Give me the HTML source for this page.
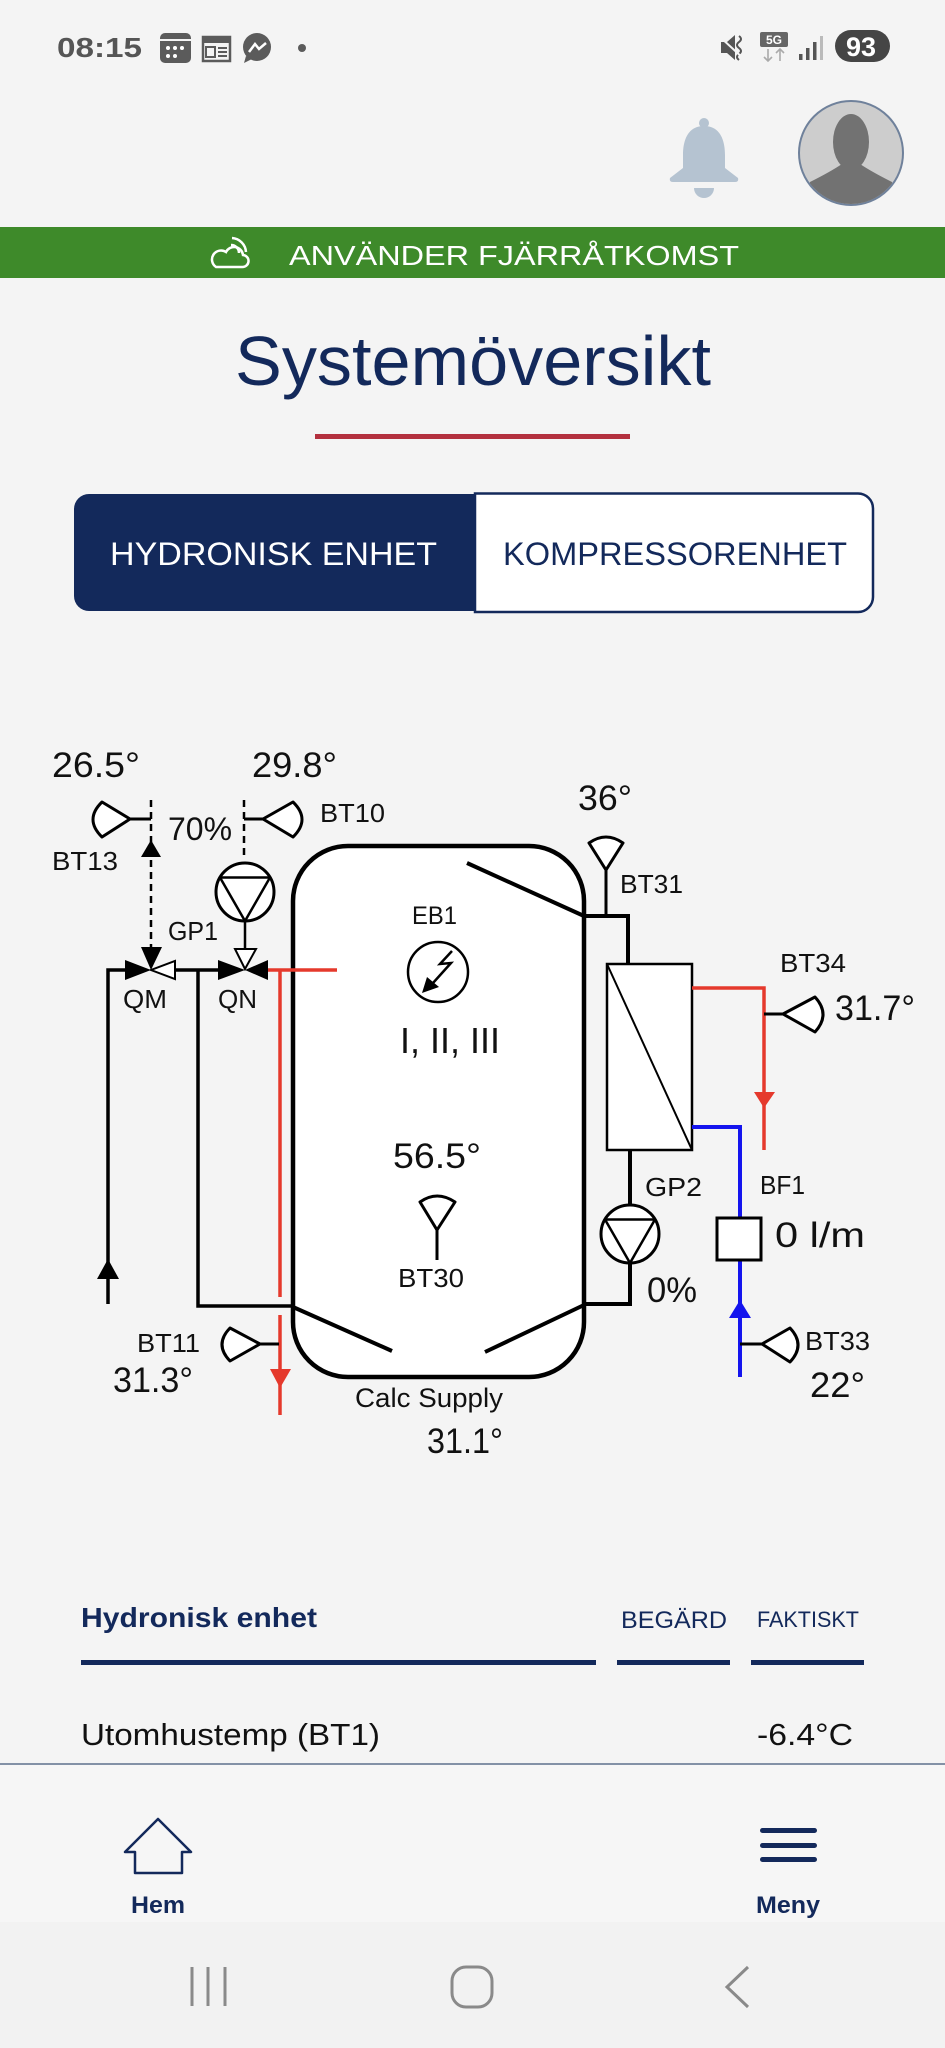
<!DOCTYPE html>
<html>
<head>
<meta charset="utf-8">
<style>
html,body{margin:0;padding:0;background:#f4f4f4;}
body{width:945px;height:2048px;overflow:hidden;position:relative;}
svg{position:absolute;left:0;top:0;}
text{font-family:"Liberation Sans",sans-serif;}
</style>
</head>
<body>
<svg width="945" height="2048" viewBox="0 0 945 2048" xmlns="http://www.w3.org/2000/svg">
<defs>
<clipPath id="av"><circle cx="851" cy="153" r="51"/></clipPath>
</defs>
<rect x="0" y="0" width="945" height="2048" fill="#f4f4f4"/>

<!-- STATUS BAR -->
<text x="57" y="57" font-size="28" font-weight="bold" fill="#555" textLength="85" lengthAdjust="spacingAndGlyphs">08:15</text>
<rect x="160" y="33" width="31" height="30" rx="5" fill="#5b5b5b"/>
<rect x="160" y="39" width="31" height="2" fill="#f4f4f4"/>
<circle cx="168" cy="48" r="2" fill="#fff"/><circle cx="175" cy="48" r="2" fill="#fff"/><circle cx="182" cy="48" r="2" fill="#fff"/>
<circle cx="168" cy="56" r="2" fill="#fff"/><circle cx="175" cy="56" r="2" fill="#fff"/>
<rect x="203" y="37" width="27" height="24" fill="none" stroke="#5b5b5b" stroke-width="2.5"/>
<rect x="203" y="37" width="27" height="6" fill="#5b5b5b"/>
<rect x="206" y="47" width="9" height="10" fill="none" stroke="#5b5b5b" stroke-width="2"/>
<path d="M218,48 H227 M218,52 H227 M218,56 H227" stroke="#5b5b5b" stroke-width="2"/>
<circle cx="257" cy="47" r="14" fill="#5b5b5b"/>
<path d="M246,56 L244,63 L252,59 Z" fill="#5b5b5b"/>
<polyline points="249,52 255,44 259,49 266,43" fill="none" stroke="#fff" stroke-width="2.5"/>
<circle cx="302" cy="48" r="4" fill="#5b5b5b"/>

<path d="M721,42 H727 L735,35 V60 L727,53 H721 Z" fill="#555"/>
<path d="M739,36 q4,3 0,6 q-4,3 0,6 q4,3 0,6 q-4,3 0,6" fill="none" stroke="#555" stroke-width="2"/>
<line x1="720" y1="37" x2="744" y2="59" stroke="#f4f4f4" stroke-width="2"/>
<rect x="760" y="32" width="28" height="15" rx="2" fill="#666"/>
<text x="774" y="44" font-size="12" font-weight="bold" fill="#fff" text-anchor="middle">5G</text>
<path d="M768,49 V61 M764,57 L768,61 L772,57 M780,61 V49 M776,53 L780,49 L784,53" fill="none" stroke="#aaa" stroke-width="1.6"/>
<rect x="799" y="54" width="3.5" height="6" fill="#555"/>
<rect x="806" y="48" width="3.5" height="12" fill="#555"/>
<rect x="813" y="42" width="3.5" height="18" fill="#555"/>
<rect x="820" y="36" width="3" height="24" fill="#bbb"/>
<rect x="835" y="30" width="55" height="32" rx="16" fill="#454545"/>
<text x="861" y="56" font-size="27" font-weight="bold" fill="#fff" text-anchor="middle">93</text>

<!-- HEADER ICONS -->
<circle cx="704" cy="123" r="5" fill="#b5c3d1"/>
<path d="M704,126 C688,126 683,140 683,155 V168 L670,178 Q669,182 673,182 H735 Q739,182 738,178 L725,168 V155 C725,140 720,126 704,126 Z" fill="#b5c3d1"/>
<path d="M694,188 A10,10 0 0 0 714,188 Z" fill="#b5c3d1"/>
<circle cx="851" cy="153" r="52" fill="#cdcdcd" stroke="#6f819b" stroke-width="2"/>
<g clip-path="url(#av)">
<ellipse cx="851" cy="142" rx="18" ry="28" fill="#727272"/>
<path d="M800,215 L810,182 Q830,172 842,164 H860 Q872,172 892,182 L902,215 Z" fill="#727272"/>
</g>

<!-- GREEN BANNER -->
<rect x="0" y="227" width="945" height="51" fill="#3e8a2a"/>
<path d="M216,267 H242 a6,6 0 0 0 1,-12 a9,9 0 0 0 -17,-3 a7,7 0 0 0 -10,15 z" fill="none" stroke="#fff" stroke-width="2.5"/>
<path d="M231,245 a8,8 0 0 1 8,8 M232,238 a15,15 0 0 1 14,14" fill="none" stroke="#fff" stroke-width="2.5"/>
<text x="289" y="265" font-size="28" fill="#fff" textLength="450" lengthAdjust="spacingAndGlyphs">ANVÄNDER FJÄRRÅTKOMST</text>

<!-- TITLE -->
<text x="235" y="385" font-size="70" fill="#13295b" textLength="476" lengthAdjust="spacingAndGlyphs">Systemöversikt</text>
<rect x="315" y="434" width="315" height="5" fill="#b3303e"/>

<!-- TOGGLE -->
<path d="M475,493.5 H858 A15,15 0 0 1 873,508.5 V597 A15,15 0 0 1 858,612 H475 Z" fill="#fff" stroke="#13295b" stroke-width="2.5"/>
<path d="M89,494 H476 V611 H89 A15,15 0 0 1 74,596 V509 A15,15 0 0 1 89,494 Z" fill="#13295b"/>
<text x="110" y="565" font-size="32" fill="#fff" textLength="327" lengthAdjust="spacingAndGlyphs">HYDRONISK ENHET</text>
<text x="503" y="565" font-size="32" fill="#13295b" textLength="344" lengthAdjust="spacingAndGlyphs">KOMPRESSORENHET</text>

<!-- DIAGRAM -->
<!-- tank -->
<rect x="293" y="846" width="291" height="531" rx="55" ry="55" fill="#fff" stroke="#000" stroke-width="4.5"/>
<path d="M467,863 L584,916 M293,1307 L392,1351 M485,1352 L584,1305" stroke="#000" stroke-width="4" fill="none"/>

<!-- black pipes -->
<path d="M108,1304 V970 H125 M175,970 H218 M198,970 V1306 H293" fill="none" stroke="#000" stroke-width="3.5"/>
<polygon points="108,1259 97,1279 119,1279" fill="#000"/>
<path d="M584,916 H628 V964" fill="none" stroke="#000" stroke-width="4"/>
<path d="M630,1150 V1205 M630,1263 V1304 H584" fill="none" stroke="#000" stroke-width="4"/>

<!-- BT13 dashed + arrows -->
<line x1="151" y1="800" x2="151" y2="947" stroke="#000" stroke-width="2.5" stroke-dasharray="7 5"/>
<polygon points="151,840 141,857 161,857" fill="#000"/>
<line x1="130" y1="819" x2="151" y2="819" stroke="#000" stroke-width="3"/>
<path d="M130,819 L102,802 Q84,819.5 102,837 Z" fill="#fff" stroke="#000" stroke-width="3" stroke-linejoin="round"/>

<!-- BT10 dashed -->
<line x1="244" y1="800" x2="244" y2="856" stroke="#000" stroke-width="2.5" stroke-dasharray="7 5"/>
<line x1="244" y1="819" x2="263" y2="819" stroke="#000" stroke-width="3"/>
<path d="M263,819 L293,802 Q311,819.5 293,837 Z" fill="#fff" stroke="#000" stroke-width="3" stroke-linejoin="round"/>

<!-- GP1 pump -->
<circle cx="245" cy="892" r="29" fill="#fff" stroke="#000" stroke-width="3"/>
<polygon points="220,877.5 270,877.5 245,921" fill="none" stroke="#000" stroke-width="2.5" stroke-linejoin="round"/>
<line x1="245" y1="921" x2="245" y2="948" stroke="#000" stroke-width="2.5"/>

<!-- QM valve -->
<polygon points="141,947 162,947 151,970" fill="#000"/>
<polygon points="125,960 125,980 151,970" fill="#000"/>
<polygon points="175,961 175,979 151,970" fill="#fff" stroke="#000" stroke-width="2"/>
<!-- QN valve -->
<polygon points="235,949 256,949 245,969" fill="#fff" stroke="#000" stroke-width="2"/>
<polygon points="218,960 218,980 245,970" fill="#000"/>
<polygon points="268,960 268,980 245,970" fill="#000"/>

<!-- red lines left -->
<path d="M268,970 H337 M280,970 V1297 M280,1315 V1415" fill="none" stroke="#e5392c" stroke-width="3.5"/>
<polygon points="270,1369 291,1369 280,1388" fill="#e5392c"/>

<!-- BT11 -->
<line x1="260" y1="1344" x2="279" y2="1344" stroke="#000" stroke-width="3"/>
<path d="M260,1344 L230,1328 Q214,1344.5 230,1361 Z" fill="#fff" stroke="#000" stroke-width="3" stroke-linejoin="round"/>

<!-- EB1 -->
<circle cx="438" cy="972" r="30" fill="#fff" stroke="#000" stroke-width="2.5"/>
<polyline points="452,951 440,964 451,963 433,983" fill="none" stroke="#000" stroke-width="2.5"/>
<polygon points="422,993 427,977 439,987" fill="#000"/>

<!-- BT30 -->
<line x1="437" y1="1230" x2="437" y2="1260" stroke="#000" stroke-width="3"/>
<path d="M437,1230 L420,1202 Q437,1190 455,1202 Z" fill="#fff" stroke="#000" stroke-width="3" stroke-linejoin="round"/>

<!-- BT31 -->
<line x1="606" y1="916" x2="606" y2="870" stroke="#000" stroke-width="3"/>
<path d="M606,870 L589,843 Q606,831 623,843 Z" fill="#fff" stroke="#000" stroke-width="3" stroke-linejoin="round"/>

<!-- heat exchanger -->
<rect x="607" y="964" width="85" height="186" fill="#fff" stroke="#000" stroke-width="2.5"/>
<line x1="607" y1="964" x2="692" y2="1150" stroke="#000" stroke-width="2"/>

<!-- GP2 pump -->
<circle cx="630" cy="1234" r="29" fill="#fff" stroke="#000" stroke-width="3"/>
<polygon points="605,1219.5 655,1219.5 630,1263" fill="none" stroke="#000" stroke-width="2.5" stroke-linejoin="round"/>

<!-- red right -->
<path d="M692,988 H764 V1150" fill="none" stroke="#e5392c" stroke-width="3.5"/>
<polygon points="754,1092 775,1092 764,1108" fill="#e5392c"/>
<line x1="764" y1="1014" x2="783" y2="1014" stroke="#000" stroke-width="3"/>
<path d="M783,1014 L815,997 Q831,1014.5 815,1032 Z" fill="#fff" stroke="#000" stroke-width="3" stroke-linejoin="round"/>

<!-- blue -->
<path d="M692,1127 H740 V1218 M740,1260 V1377" fill="none" stroke="#1414ee" stroke-width="4"/>
<polygon points="740,1300 729,1318 751,1318" fill="#1414ee"/>
<rect x="717" y="1218" width="44" height="42" fill="#fff" stroke="#000" stroke-width="3"/>
<line x1="740" y1="1344" x2="762" y2="1344" stroke="#000" stroke-width="3"/>
<path d="M762,1344 L790,1328 Q806,1345 790,1362 Z" fill="#fff" stroke="#000" stroke-width="3" stroke-linejoin="round"/>

<!-- diagram texts -->
<g fill="#111">
<text x="52" y="777" font-size="35" textLength="88" lengthAdjust="spacingAndGlyphs">26.5°</text>
<text x="252" y="777" font-size="35" textLength="85" lengthAdjust="spacingAndGlyphs">29.8°</text>
<text x="168" y="840" font-size="32" textLength="64" lengthAdjust="spacingAndGlyphs">70%</text>
<text x="320" y="822" font-size="26" textLength="65" lengthAdjust="spacingAndGlyphs">BT10</text>
<text x="52" y="870" font-size="26" textLength="66" lengthAdjust="spacingAndGlyphs">BT13</text>
<text x="168" y="940" font-size="26" textLength="50" lengthAdjust="spacingAndGlyphs">GP1</text>
<text x="123" y="1008" font-size="26" textLength="44" lengthAdjust="spacingAndGlyphs">QM</text>
<text x="218" y="1008" font-size="26" textLength="39" lengthAdjust="spacingAndGlyphs">QN</text>
<text x="412" y="924" font-size="25" textLength="45" lengthAdjust="spacingAndGlyphs">EB1</text>
<text x="400" y="1053" font-size="36" textLength="100" lengthAdjust="spacingAndGlyphs">I, II, III</text>
<text x="578" y="810" font-size="35" textLength="54" lengthAdjust="spacingAndGlyphs">36°</text>
<text x="620" y="893" font-size="26" textLength="63" lengthAdjust="spacingAndGlyphs">BT31</text>
<text x="780" y="972" font-size="26" textLength="66" lengthAdjust="spacingAndGlyphs">BT34</text>
<text x="835" y="1020" font-size="35" textLength="80" lengthAdjust="spacingAndGlyphs">31.7°</text>
<text x="393" y="1168" font-size="35" textLength="88" lengthAdjust="spacingAndGlyphs">56.5°</text>
<text x="398" y="1287" font-size="26" textLength="66" lengthAdjust="spacingAndGlyphs">BT30</text>
<text x="645" y="1196" font-size="26" textLength="57" lengthAdjust="spacingAndGlyphs">GP2</text>
<text x="760" y="1194" font-size="26" textLength="45" lengthAdjust="spacingAndGlyphs">BF1</text>
<text x="775" y="1247" font-size="35" textLength="90" lengthAdjust="spacingAndGlyphs">0 l/m</text>
<text x="647" y="1302" font-size="35" textLength="50" lengthAdjust="spacingAndGlyphs">0%</text>
<text x="137" y="1352" font-size="26" textLength="63" lengthAdjust="spacingAndGlyphs">BT11</text>
<text x="113" y="1392" font-size="35" textLength="80" lengthAdjust="spacingAndGlyphs">31.3°</text>
<text x="805" y="1350" font-size="26" textLength="65" lengthAdjust="spacingAndGlyphs">BT33</text>
<text x="810" y="1397" font-size="35" textLength="55" lengthAdjust="spacingAndGlyphs">22°</text>
<text x="355" y="1407" font-size="27" textLength="148" lengthAdjust="spacingAndGlyphs">Calc Supply</text>
<text x="427" y="1453" font-size="35" textLength="76" lengthAdjust="spacingAndGlyphs">31.1°</text>
</g>

<!-- TABLE -->
<text x="81" y="1627" font-size="28" font-weight="bold" fill="#13295b" textLength="236" lengthAdjust="spacingAndGlyphs">Hydronisk enhet</text>
<text x="621" y="1628" font-size="24" fill="#13295b" textLength="106" lengthAdjust="spacingAndGlyphs">BEGÄRD</text>
<text x="757" y="1627" font-size="22" fill="#13295b" textLength="102" lengthAdjust="spacingAndGlyphs">FAKTISKT</text>
<rect x="81" y="1660" width="515" height="5" fill="#13295b"/>
<rect x="617" y="1660" width="113" height="5" fill="#13295b"/>
<rect x="751" y="1660" width="113" height="5" fill="#13295b"/>
<text x="81" y="1745" font-size="31" fill="#111" textLength="299" lengthAdjust="spacingAndGlyphs">Utomhustemp (BT1)</text>
<text x="757" y="1745" font-size="31" fill="#111" textLength="96" lengthAdjust="spacingAndGlyphs">-6.4°C</text>

<!-- BOTTOM NAV -->
<rect x="0" y="1765" width="945" height="157" fill="#f6f6f6"/>
<rect x="0" y="1922" width="945" height="126" fill="#f2f2f2"/>
<rect x="0" y="1763" width="945" height="2" fill="#8391a6"/>
<path d="M158,1819 L191,1852 H182 V1873 H135 V1852 H125 Z" fill="none" stroke="#13295b" stroke-width="2.5" stroke-linejoin="round"/>
<text x="158" y="1913" font-size="24" font-weight="bold" fill="#13295b" text-anchor="middle" textLength="54" lengthAdjust="spacingAndGlyphs">Hem</text>
<rect x="760" y="1828" width="57" height="5" rx="2.5" fill="#13295b"/>
<rect x="760" y="1843" width="57" height="5" rx="2.5" fill="#13295b"/>
<rect x="760" y="1857" width="57" height="5" rx="2.5" fill="#13295b"/>
<text x="788" y="1913" font-size="24" font-weight="bold" fill="#13295b" text-anchor="middle" textLength="64" lengthAdjust="spacingAndGlyphs">Meny</text>

<!-- SYSTEM NAV -->
<path d="M192,1967 V2006 M208,1967 V2006 M225,1967 V2006" stroke="#8a8a8a" stroke-width="3"/>
<rect x="452" y="1967" width="40" height="40" rx="14" fill="none" stroke="#8a8a8a" stroke-width="3"/>
<polyline points="748,1967 727,1987 748,2007" fill="none" stroke="#8a8a8a" stroke-width="3"/>
</svg>
</body>
</html>
